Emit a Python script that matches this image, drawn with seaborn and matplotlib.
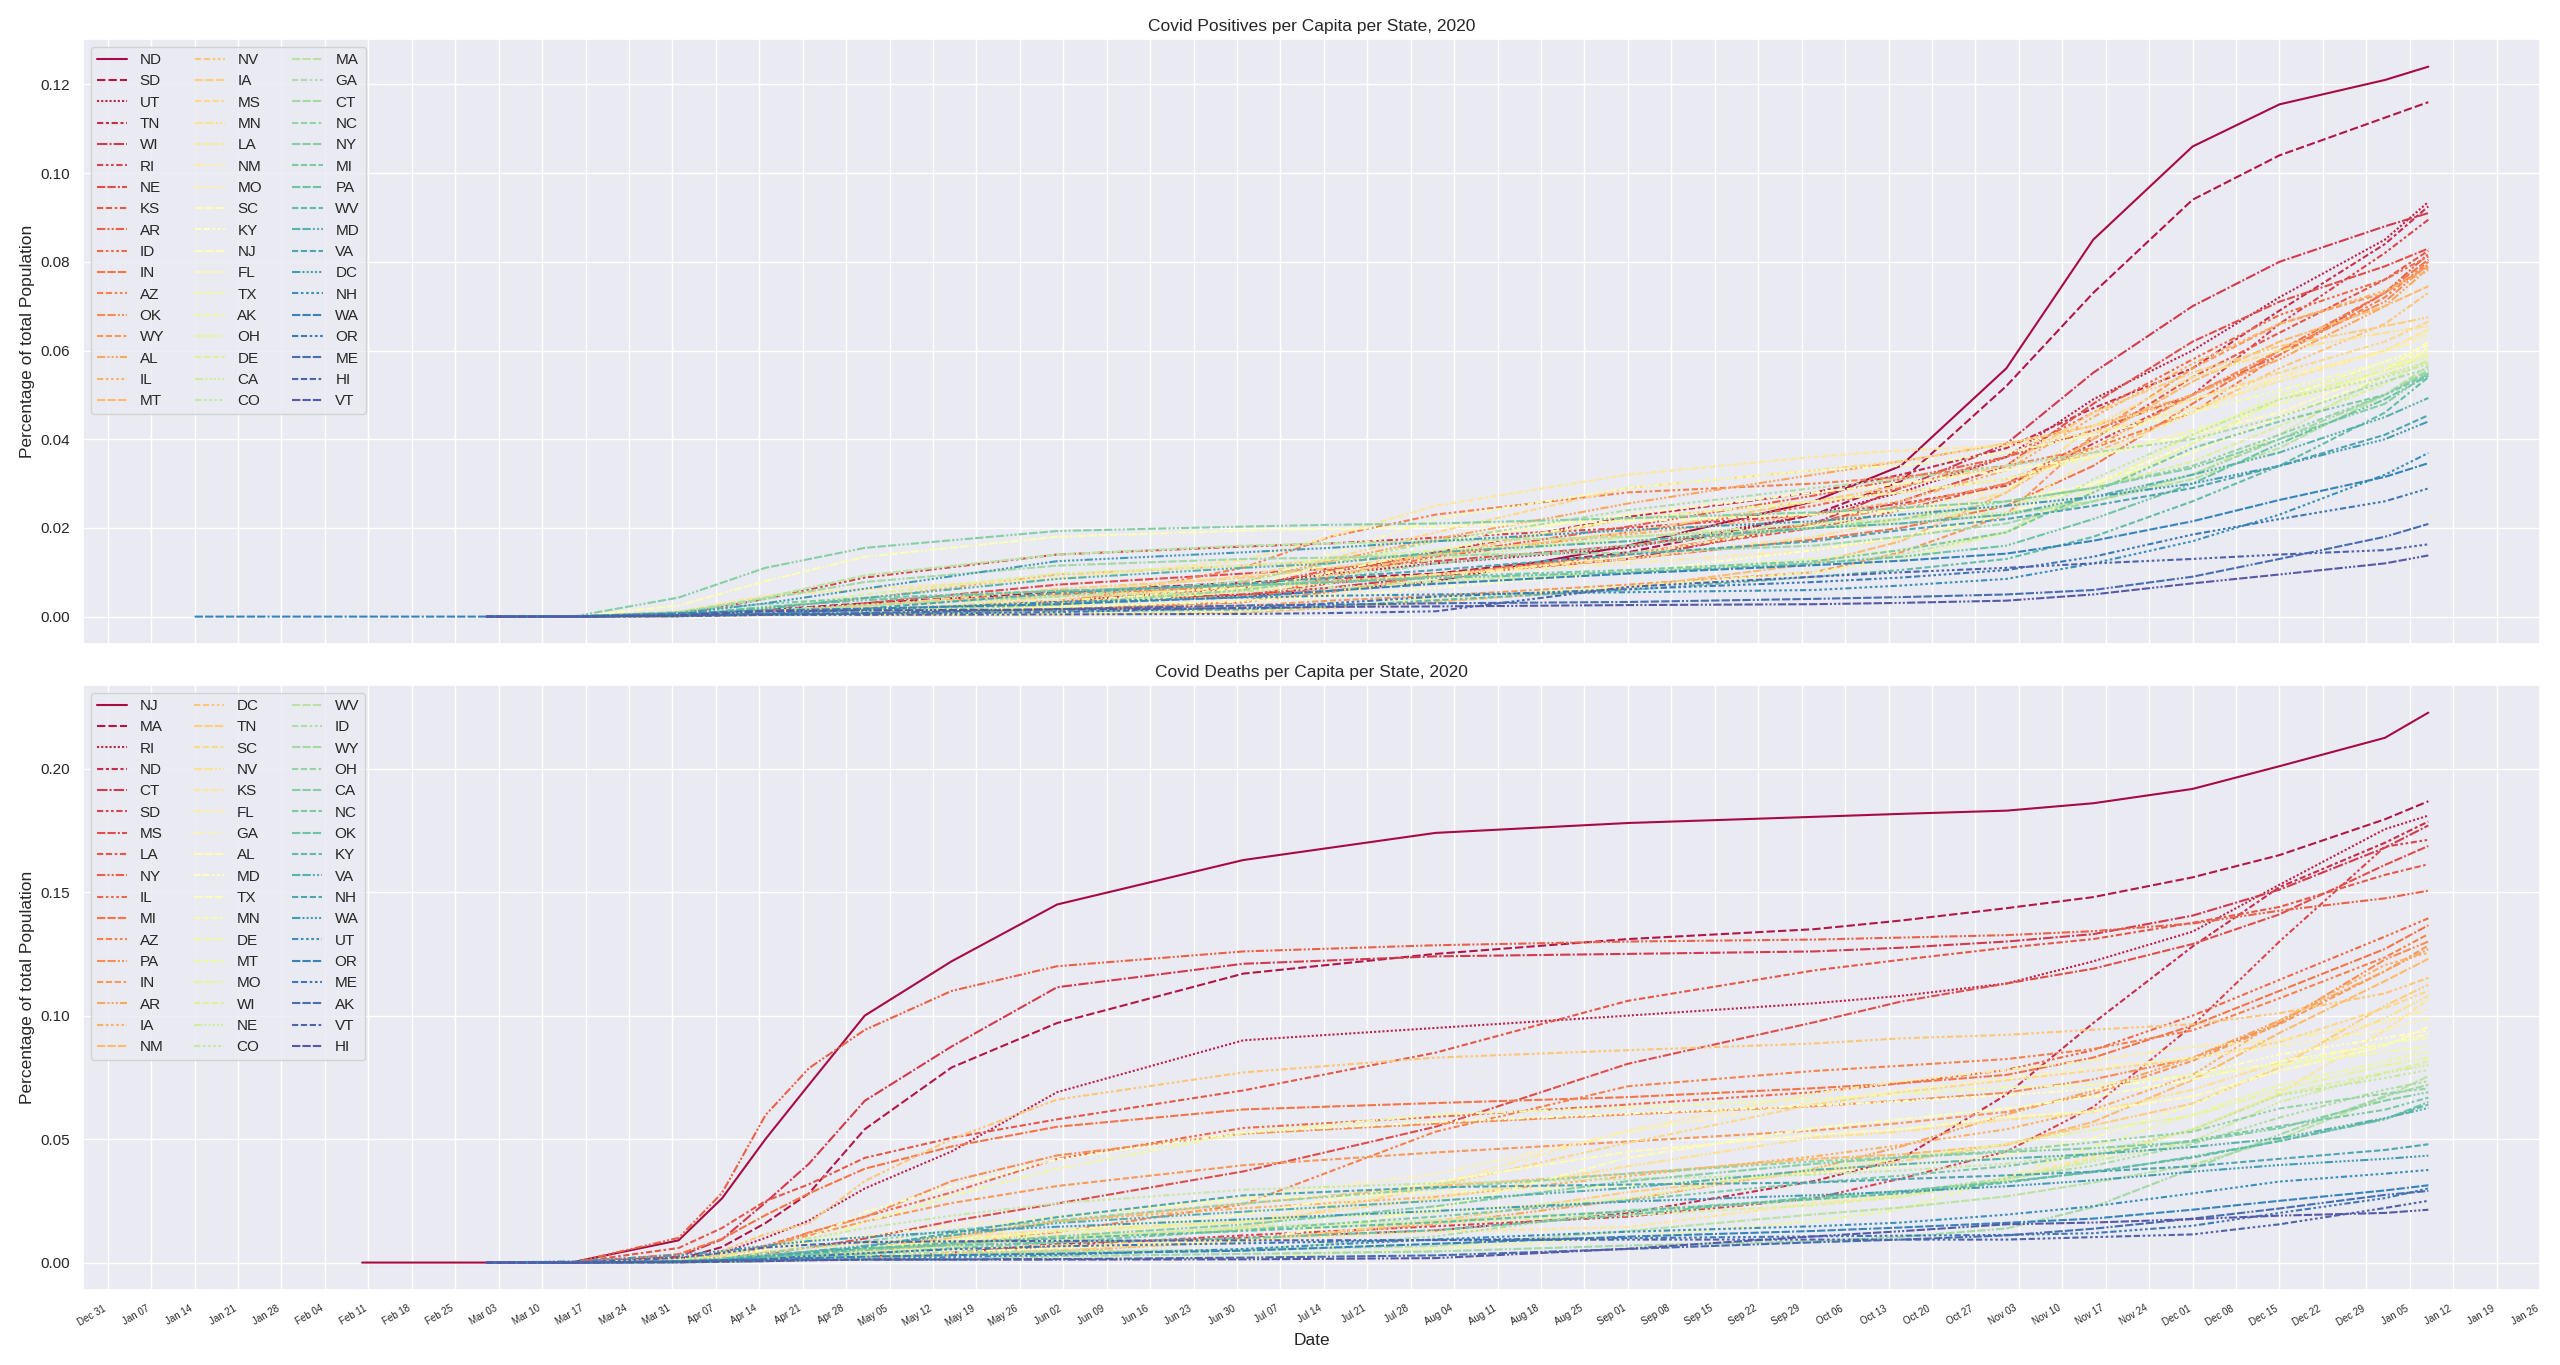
import matplotlib
matplotlib.use("Agg")
import matplotlib.pyplot as plt
import matplotlib.dates as mdates
import pandas as pd
import seaborn as sns

# ---------------- data: cumulative positives as share of population ----------------
case_dates = ["2020-01-14", "2020-03-01", "2020-03-15", "2020-04-01", "2020-04-15", "2020-05-01",
              "2020-06-01", "2020-07-01", "2020-07-15", "2020-08-01", "2020-09-01", "2020-10-01",
              "2020-10-15", "2020-11-01", "2020-11-15", "2020-12-01", "2020-12-15", "2021-01-01",
              "2021-01-08"]

cases = {
    "ND": [None, 0, 0, 0.0002, 0.0005, 0.0014, 0.0033, 0.0047, 0.0058, 0.0080, 0.0160, 0.0260, 0.0340, 0.0560, 0.0850, 0.1060, 0.1155, 0.1210, 0.1240],
    "SD": [None, 0, 0, 0.0001, 0.0015, 0.0030, 0.0055, 0.0077, 0.0086, 0.0097, 0.0145, 0.0230, 0.0305, 0.0520, 0.0730, 0.0940, 0.1040, 0.1125, 0.1160],
    "UT": [None, 0, 0, 0.0003, 0.0008, 0.0014, 0.0029, 0.0072, 0.0096, 0.0120, 0.0155, 0.0230, 0.0280, 0.0360, 0.0490, 0.0600, 0.0720, 0.0850, 0.0935],
    "TN": [None, 0, 0, 0.0004, 0.0008, 0.0016, 0.0034, 0.0065, 0.0100, 0.0145, 0.0225, 0.0280, 0.0320, 0.0380, 0.0470, 0.0560, 0.0690, 0.0840, 0.0925],
    "WI": [None, 0, 0, 0.0002, 0.0006, 0.0011, 0.0033, 0.0050, 0.0065, 0.0092, 0.0130, 0.0210, 0.0290, 0.0390, 0.0550, 0.0700, 0.0800, 0.0880, 0.0910],
    "RI": [None, 0, 0, 0.0005, 0.0040, 0.0088, 0.0140, 0.0158, 0.0165, 0.0178, 0.0200, 0.0230, 0.0255, 0.0295, 0.0390, 0.0500, 0.0660, 0.0820, 0.0895],
    "NE": [None, 0, 0, 0.0001, 0.0005, 0.0030, 0.0072, 0.0097, 0.0108, 0.0125, 0.0160, 0.0210, 0.0260, 0.0340, 0.0480, 0.0620, 0.0710, 0.0790, 0.0830],
    "KS": [None, 0, 0, 0.0002, 0.0005, 0.0016, 0.0033, 0.0048, 0.0075, 0.0095, 0.0140, 0.0200, 0.0240, 0.0300, 0.0400, 0.0540, 0.0640, 0.0760, 0.0825],
    "AR": [None, 0, 0, 0.0002, 0.0005, 0.0011, 0.0024, 0.0068, 0.0105, 0.0138, 0.0203, 0.0273, 0.0310, 0.0360, 0.0420, 0.0500, 0.0590, 0.0730, 0.0818],
    "ID": [None, 0, 0, 0.0003, 0.0008, 0.0012, 0.0016, 0.0032, 0.0090, 0.0135, 0.0190, 0.0250, 0.0290, 0.0360, 0.0460, 0.0580, 0.0680, 0.0760, 0.0812],
    "IN": [None, 0, 0, 0.0002, 0.0012, 0.0026, 0.0050, 0.0068, 0.0080, 0.0095, 0.0130, 0.0174, 0.0200, 0.0250, 0.0340, 0.0480, 0.0600, 0.0730, 0.0805],
    "AZ": [None, 0, 0, 0.0002, 0.0005, 0.0010, 0.0028, 0.0110, 0.0180, 0.0230, 0.0280, 0.0300, 0.0315, 0.0340, 0.0380, 0.0460, 0.0590, 0.0720, 0.0800],
    "OK": [None, 0, 0, 0.0001, 0.0005, 0.0009, 0.0017, 0.0033, 0.0055, 0.0093, 0.0140, 0.0210, 0.0250, 0.0300, 0.0380, 0.0500, 0.0600, 0.0710, 0.0795],
    "WY": [None, 0, 0, 0.0002, 0.0005, 0.0009, 0.0015, 0.0024, 0.0036, 0.0047, 0.0072, 0.0100, 0.0145, 0.0230, 0.0410, 0.0560, 0.0660, 0.0730, 0.0790],
    "AL": [None, 0, 0, 0.0002, 0.0009, 0.0015, 0.0036, 0.0078, 0.0125, 0.0175, 0.0255, 0.0320, 0.0350, 0.0390, 0.0430, 0.0500, 0.0580, 0.0700, 0.0785],
    "IL": [None, 0, 0, 0.0005, 0.0019, 0.0041, 0.0095, 0.0115, 0.0125, 0.0140, 0.0185, 0.0230, 0.0260, 0.0330, 0.0450, 0.0570, 0.0660, 0.0735, 0.0780],
    "MT": [None, 0, 0, 0.0002, 0.0004, 0.0004, 0.0005, 0.0009, 0.0020, 0.0033, 0.0065, 0.0120, 0.0170, 0.0280, 0.0400, 0.0530, 0.0620, 0.0700, 0.0745],
    "NV": [None, 0, 0, 0.0004, 0.0010, 0.0017, 0.0027, 0.0058, 0.0093, 0.0140, 0.0220, 0.0260, 0.0280, 0.0310, 0.0370, 0.0460, 0.0560, 0.0660, 0.0730],
    "IA": [None, 0, 0, 0.0002, 0.0006, 0.0024, 0.0062, 0.0087, 0.0110, 0.0140, 0.0190, 0.0260, 0.0295, 0.0340, 0.0460, 0.0550, 0.0610, 0.0655, 0.0675],
    "MS": [None, 0, 0, 0.0003, 0.0013, 0.0023, 0.0052, 0.0091, 0.0130, 0.0190, 0.0290, 0.0330, 0.0350, 0.0390, 0.0430, 0.0490, 0.0550, 0.0620, 0.0665],
    "MN": [None, 0, 0, 0.0001, 0.0003, 0.0009, 0.0045, 0.0065, 0.0079, 0.0095, 0.0130, 0.0180, 0.0220, 0.0280, 0.0430, 0.0540, 0.0600, 0.0640, 0.0655],
    "LA": [None, 0, 0, 0.0012, 0.0047, 0.0062, 0.0086, 0.0127, 0.0180, 0.0250, 0.0320, 0.0360, 0.0375, 0.0385, 0.0415, 0.0470, 0.0530, 0.0600, 0.0648],
    "NM": [None, 0, 0, 0.0002, 0.0008, 0.0017, 0.0036, 0.0058, 0.0075, 0.0095, 0.0120, 0.0150, 0.0175, 0.0230, 0.0360, 0.0460, 0.0540, 0.0600, 0.0640],
    "MO": [None, 0, 0, 0.0003, 0.0007, 0.0013, 0.0022, 0.0036, 0.0050, 0.0085, 0.0140, 0.0205, 0.0240, 0.0290, 0.0380, 0.0490, 0.0540, 0.0595, 0.0630],
    "SC": [None, 0, 0, 0.0002, 0.0007, 0.0012, 0.0022, 0.0065, 0.0120, 0.0170, 0.0230, 0.0280, 0.0300, 0.0330, 0.0360, 0.0410, 0.0460, 0.0555, 0.0620],
    "KY": [None, 0, 0, 0.0001, 0.0004, 0.0010, 0.0021, 0.0034, 0.0045, 0.0065, 0.0100, 0.0150, 0.0180, 0.0230, 0.0300, 0.0390, 0.0490, 0.0575, 0.0612],
    "NJ": [None, 0, 0, 0.0025, 0.0080, 0.0135, 0.0180, 0.0194, 0.0197, 0.0203, 0.0215, 0.0230, 0.0240, 0.0260, 0.0300, 0.0370, 0.0450, 0.0540, 0.0605],
    "FL": [None, 0, 0, 0.0003, 0.0010, 0.0016, 0.0027, 0.0072, 0.0140, 0.0220, 0.0290, 0.0330, 0.0340, 0.0370, 0.0410, 0.0460, 0.0510, 0.0575, 0.0600],
    "TX": [None, 0, 0, 0.0001, 0.0005, 0.0010, 0.0022, 0.0058, 0.0100, 0.0150, 0.0220, 0.0260, 0.0280, 0.0310, 0.0360, 0.0420, 0.0480, 0.0555, 0.0595],
    "AK": [None, 0, 0, 0.0002, 0.0004, 0.0005, 0.0006, 0.0012, 0.0022, 0.0042, 0.0068, 0.0100, 0.0130, 0.0190, 0.0290, 0.0410, 0.0500, 0.0565, 0.0590],
    "OH": [None, 0, 0, 0.0002, 0.0007, 0.0017, 0.0031, 0.0045, 0.0058, 0.0080, 0.0100, 0.0130, 0.0150, 0.0190, 0.0280, 0.0390, 0.0490, 0.0555, 0.0585],
    "DE": [None, 0, 0, 0.0004, 0.0019, 0.0050, 0.0097, 0.0115, 0.0128, 0.0150, 0.0170, 0.0200, 0.0220, 0.0250, 0.0290, 0.0350, 0.0430, 0.0525, 0.0580],
    "CA": [None, 0, 0, 0.0002, 0.0007, 0.0013, 0.0029, 0.0060, 0.0090, 0.0130, 0.0180, 0.0210, 0.0220, 0.0235, 0.0260, 0.0320, 0.0410, 0.0545, 0.0575],
    "CO": [None, 0, 0, 0.0005, 0.0014, 0.0027, 0.0046, 0.0056, 0.0065, 0.0080, 0.0100, 0.0120, 0.0140, 0.0190, 0.0310, 0.0410, 0.0490, 0.0540, 0.0570],
    "MA": [None, 0, 0, 0.0010, 0.0043, 0.0093, 0.0140, 0.0160, 0.0165, 0.0170, 0.0180, 0.0200, 0.0210, 0.0230, 0.0260, 0.0310, 0.0380, 0.0500, 0.0565],
    "GA": [None, 0, 0, 0.0005, 0.0013, 0.0025, 0.0045, 0.0080, 0.0120, 0.0170, 0.0240, 0.0290, 0.0310, 0.0340, 0.0370, 0.0400, 0.0450, 0.0530, 0.0560],
    "CT": [None, 0, 0, 0.0009, 0.0040, 0.0078, 0.0115, 0.0130, 0.0133, 0.0138, 0.0144, 0.0160, 0.0180, 0.0210, 0.0260, 0.0320, 0.0400, 0.0500, 0.0556],
    "NC": [None, 0, 0, 0.0002, 0.0005, 0.0010, 0.0027, 0.0060, 0.0085, 0.0120, 0.0160, 0.0200, 0.0220, 0.0260, 0.0290, 0.0340, 0.0410, 0.0500, 0.0552],
    "NY": [None, 0, 0, 0.0043, 0.0110, 0.0155, 0.0193, 0.0203, 0.0207, 0.0210, 0.0222, 0.0235, 0.0245, 0.0260, 0.0290, 0.0335, 0.0400, 0.0480, 0.0549],
    "MI": [None, 0, 0, 0.0010, 0.0029, 0.0042, 0.0058, 0.0070, 0.0078, 0.0090, 0.0105, 0.0125, 0.0150, 0.0190, 0.0280, 0.0380, 0.0440, 0.0500, 0.0546],
    "PA": [None, 0, 0, 0.0004, 0.0022, 0.0037, 0.0058, 0.0071, 0.0077, 0.0087, 0.0100, 0.0120, 0.0135, 0.0160, 0.0220, 0.0300, 0.0390, 0.0490, 0.0543],
    "WV": [None, 0, 0, 0.0001, 0.0004, 0.0007, 0.0012, 0.0016, 0.0023, 0.0037, 0.0060, 0.0090, 0.0105, 0.0130, 0.0180, 0.0260, 0.0340, 0.0460, 0.0540],
    "MD": [None, 0, 0, 0.0003, 0.0018, 0.0042, 0.0085, 0.0110, 0.0120, 0.0145, 0.0170, 0.0200, 0.0210, 0.0230, 0.0270, 0.0320, 0.0370, 0.0450, 0.0493],
    "VA": [None, 0, 0, 0.0002, 0.0007, 0.0018, 0.0053, 0.0074, 0.0088, 0.0105, 0.0140, 0.0170, 0.0195, 0.0220, 0.0250, 0.0290, 0.0340, 0.0410, 0.0454],
    "DC": [None, 0, 0, 0.0007, 0.0030, 0.0063, 0.0125, 0.0145, 0.0155, 0.0170, 0.0195, 0.0215, 0.0230, 0.0250, 0.0270, 0.0300, 0.0340, 0.0400, 0.0440],
    "NH": [None, 0, 0, 0.0003, 0.0007, 0.0015, 0.0033, 0.0043, 0.0047, 0.0050, 0.0055, 0.0060, 0.0070, 0.0085, 0.0120, 0.0170, 0.0230, 0.0320, 0.0369],
    "WA": [0, 0, 0.0001, 0.0007, 0.0014, 0.0018, 0.0028, 0.0044, 0.0058, 0.0074, 0.0097, 0.0116, 0.0126, 0.0142, 0.0171, 0.0215, 0.0263, 0.0315, 0.0346],
    "OR": [None, 0, 0, 0.0002, 0.0004, 0.0006, 0.0010, 0.0020, 0.0030, 0.0045, 0.0062, 0.0078, 0.0088, 0.0105, 0.0135, 0.0185, 0.0220, 0.0260, 0.0289],
    "ME": [None, 0, 0, 0.0002, 0.0006, 0.0008, 0.0017, 0.0025, 0.0027, 0.0030, 0.0033, 0.0040, 0.0044, 0.0050, 0.0060, 0.0090, 0.0130, 0.0180, 0.0209],
    "HI": [None, 0, 0, 0.0001, 0.0004, 0.0004, 0.0005, 0.0006, 0.0008, 0.0012, 0.0067, 0.0090, 0.0100, 0.0110, 0.0120, 0.0130, 0.0140, 0.0150, 0.0163],
    "VT": [None, 0, 0, 0.0003, 0.0012, 0.0014, 0.0016, 0.0019, 0.0022, 0.0023, 0.0026, 0.0028, 0.0031, 0.0036, 0.0050, 0.0075, 0.0095, 0.0120, 0.0138],
}

# ---------------- data: cumulative deaths per capita ----------------
death_dates = ["2020-02-10", "2020-03-01", "2020-03-15", "2020-04-01", "2020-04-08", "2020-04-15",
               "2020-04-22", "2020-05-01", "2020-05-15", "2020-06-01", "2020-07-01", "2020-08-01",
               "2020-09-01", "2020-10-01", "2020-10-15", "2020-11-01", "2020-11-15", "2020-12-01",
               "2020-12-15", "2021-01-01", "2021-01-08"]

deaths = {
    "NJ": [0, 0, 0.0002, 0.0090, 0.0260, 0.0500, 0.0720, 0.1000, 0.1220, 0.1450, 0.1630, 0.1740, 0.1780, 0.1805, 0.1817, 0.1830, 0.1860, 0.1918, 0.2010, 0.2125, 0.2227],
    "MA": [None, 0, 0, 0.0013, 0.0063, 0.0160, 0.0280, 0.0540, 0.0790, 0.0970, 0.1170, 0.1250, 0.1310, 0.1350, 0.1385, 0.1435, 0.1480, 0.1560, 0.1650, 0.1795, 0.1868],
    "RI": [None, 0, 0, 0.0011, 0.0038, 0.0100, 0.0170, 0.0300, 0.0450, 0.0690, 0.0900, 0.0950, 0.1000, 0.1050, 0.1080, 0.1130, 0.1220, 0.1340, 0.1530, 0.1755, 0.1810],
    "ND": [None, 0, 0, 0.0004, 0.0008, 0.0012, 0.0016, 0.0024, 0.0040, 0.0075, 0.0100, 0.0130, 0.0200, 0.0330, 0.0420, 0.0680, 0.0970, 0.1280, 0.1520, 0.1700, 0.1786],
    "CT": [None, 0, 0, 0.0024, 0.0094, 0.0243, 0.0400, 0.0655, 0.0875, 0.1115, 0.1210, 0.1240, 0.1250, 0.1260, 0.1275, 0.1300, 0.1330, 0.1405, 0.1510, 0.1680, 0.1770],
    "SD": [None, 0, 0, 0.0001, 0.0003, 0.0007, 0.0010, 0.0015, 0.0040, 0.0068, 0.0110, 0.0147, 0.0186, 0.0260, 0.0340, 0.0450, 0.0630, 0.0960, 0.1300, 0.1684, 0.1712],
    "MS": [None, 0, 0, 0.0007, 0.0020, 0.0037, 0.0060, 0.0097, 0.0168, 0.0239, 0.0369, 0.0550, 0.0805, 0.0973, 0.1057, 0.1130, 0.1190, 0.1290, 0.1410, 0.1610, 0.1687],
    "LA": [None, 0, 0, 0.0059, 0.0140, 0.0249, 0.0317, 0.0424, 0.0505, 0.0580, 0.0697, 0.0850, 0.1060, 0.1183, 0.1226, 0.1275, 0.1310, 0.1376, 0.1440, 0.1570, 0.1613],
    "NY": [None, 0, 0, 0.0100, 0.0282, 0.0597, 0.0787, 0.0942, 0.1100, 0.1200, 0.1260, 0.1285, 0.1300, 0.1308, 0.1316, 0.1326, 0.1342, 0.1373, 0.1425, 0.1475, 0.1506],
    "IL": [None, 0, 0, 0.0008, 0.0030, 0.0068, 0.0120, 0.0186, 0.0284, 0.0420, 0.0545, 0.0590, 0.0640, 0.0690, 0.0726, 0.0780, 0.0860, 0.1000, 0.1145, 0.1320, 0.1394],
    "MI": [None, 0, 0, 0.0034, 0.0096, 0.0192, 0.0280, 0.0380, 0.0470, 0.0550, 0.0620, 0.0646, 0.0670, 0.0706, 0.0726, 0.0760, 0.0830, 0.0960, 0.1100, 0.1270, 0.1366],
    "AZ": [None, 0, 0, 0.0003, 0.0008, 0.0017, 0.0030, 0.0048, 0.0073, 0.0124, 0.0236, 0.0530, 0.0714, 0.0776, 0.0797, 0.0824, 0.0865, 0.0940, 0.1070, 0.1236, 0.1330],
    "PA": [None, 0, 0, 0.0006, 0.0026, 0.0059, 0.0122, 0.0184, 0.0330, 0.0434, 0.0522, 0.0562, 0.0600, 0.0633, 0.0656, 0.0688, 0.0742, 0.0828, 0.0969, 0.1227, 0.1300],
    "IN": [None, 0, 0, 0.0012, 0.0033, 0.0065, 0.0110, 0.0166, 0.0241, 0.0310, 0.0394, 0.0446, 0.0490, 0.0535, 0.0565, 0.0610, 0.0683, 0.0817, 0.0965, 0.1180, 0.1284],
    "AR": [None, 0, 0, 0.0002, 0.0004, 0.0010, 0.0015, 0.0020, 0.0030, 0.0044, 0.0091, 0.0156, 0.0255, 0.0380, 0.0470, 0.0600, 0.0696, 0.0830, 0.0980, 0.1180, 0.1270],
    "IA": [None, 0, 0, 0.0002, 0.0009, 0.0022, 0.0036, 0.0054, 0.0110, 0.0168, 0.0220, 0.0266, 0.0350, 0.0430, 0.0476, 0.0540, 0.0620, 0.0760, 0.0980, 0.1205, 0.1255],
    "NM": [None, 0, 0, 0.0001, 0.0012, 0.0019, 0.0030, 0.0052, 0.0100, 0.0167, 0.0238, 0.0310, 0.0360, 0.0420, 0.0438, 0.0476, 0.0570, 0.0740, 0.0930, 0.1140, 0.1230],
    "DC": [None, 0, 0, 0.0013, 0.0047, 0.0115, 0.0159, 0.0330, 0.0500, 0.0660, 0.0770, 0.0830, 0.0860, 0.0887, 0.0908, 0.0922, 0.0943, 0.0965, 0.1010, 0.1090, 0.1153],
    "TN": [None, 0, 0, 0.0003, 0.0007, 0.0014, 0.0020, 0.0028, 0.0038, 0.0051, 0.0085, 0.0168, 0.0285, 0.0366, 0.0410, 0.0480, 0.0556, 0.0644, 0.0790, 0.1040, 0.1125],
    "SC": [None, 0, 0, 0.0004, 0.0013, 0.0021, 0.0031, 0.0047, 0.0071, 0.0099, 0.0140, 0.0310, 0.0485, 0.0640, 0.0690, 0.0738, 0.0777, 0.0825, 0.0893, 0.1030, 0.1100],
    "NV": [None, 0, 0, 0.0008, 0.0028, 0.0044, 0.0058, 0.0079, 0.0105, 0.0130, 0.0164, 0.0260, 0.0390, 0.0506, 0.0530, 0.0578, 0.0610, 0.0700, 0.0810, 0.0990, 0.1080],
    "KS": [None, 0, 0, 0.0003, 0.0014, 0.0027, 0.0035, 0.0043, 0.0055, 0.0069, 0.0093, 0.0125, 0.0144, 0.0240, 0.0270, 0.0340, 0.0430, 0.0536, 0.0687, 0.0940, 0.1065],
    "FL": [None, 0, 0, 0.0004, 0.0012, 0.0027, 0.0041, 0.0059, 0.0088, 0.0114, 0.0165, 0.0316, 0.0535, 0.0684, 0.0735, 0.0780, 0.0819, 0.0874, 0.0900, 0.0975, 0.1025],
    "GA": [None, 0, 0, 0.0013, 0.0035, 0.0058, 0.0085, 0.0108, 0.0150, 0.0183, 0.0264, 0.0358, 0.0528, 0.0650, 0.0698, 0.0745, 0.0790, 0.0830, 0.0877, 0.0943, 0.0990],
    "AL": [None, 0, 0, 0.0003, 0.0012, 0.0023, 0.0035, 0.0055, 0.0090, 0.0128, 0.0194, 0.0326, 0.0449, 0.0518, 0.0540, 0.0590, 0.0612, 0.0673, 0.0775, 0.0877, 0.0955],
    "MD": [None, 0, 0, 0.0005, 0.0017, 0.0054, 0.0097, 0.0205, 0.0308, 0.0418, 0.0527, 0.0570, 0.0603, 0.0636, 0.0653, 0.0678, 0.0702, 0.0760, 0.0843, 0.0910, 0.0940],
    "TX": [None, 0, 0, 0.0001, 0.0006, 0.0013, 0.0020, 0.0029, 0.0042, 0.0059, 0.0086, 0.0217, 0.0424, 0.0545, 0.0580, 0.0624, 0.0672, 0.0741, 0.0814, 0.0885, 0.0925],
    "MN": [None, 0, 0, 0.0003, 0.0007, 0.0014, 0.0032, 0.0061, 0.0120, 0.0186, 0.0257, 0.0284, 0.0310, 0.0363, 0.0390, 0.0434, 0.0505, 0.0638, 0.0798, 0.0887, 0.0910],
    "DE": [None, 0, 0, 0.0010, 0.0020, 0.0036, 0.0080, 0.0163, 0.0270, 0.0380, 0.0524, 0.0600, 0.0627, 0.0662, 0.0683, 0.0709, 0.0720, 0.0760, 0.0800, 0.0852, 0.0875],
    "MT": [None, 0, 0, 0.0006, 0.0008, 0.0011, 0.0013, 0.0015, 0.0015, 0.0016, 0.0020, 0.0056, 0.0103, 0.0168, 0.0215, 0.0346, 0.0468, 0.0600, 0.0720, 0.0814, 0.0855],
    "MO": [None, 0, 0, 0.0004, 0.0011, 0.0025, 0.0038, 0.0054, 0.0090, 0.0127, 0.0168, 0.0205, 0.0260, 0.0380, 0.0423, 0.0480, 0.0537, 0.0594, 0.0700, 0.0798, 0.0830],
    "WI": [None, 0, 0, 0.0004, 0.0013, 0.0026, 0.0039, 0.0053, 0.0078, 0.0103, 0.0136, 0.0160, 0.0192, 0.0232, 0.0266, 0.0335, 0.0420, 0.0540, 0.0680, 0.0770, 0.0815],
    "NE": [None, 0, 0, 0.0002, 0.0007, 0.0012, 0.0020, 0.0038, 0.0065, 0.0090, 0.0145, 0.0171, 0.0207, 0.0254, 0.0280, 0.0337, 0.0410, 0.0490, 0.0650, 0.0767, 0.0800],
    "CO": [None, 0, 0, 0.0012, 0.0033, 0.0062, 0.0098, 0.0139, 0.0190, 0.0240, 0.0295, 0.0321, 0.0339, 0.0356, 0.0373, 0.0400, 0.0443, 0.0538, 0.0677, 0.0747, 0.0780],
    "WV": [None, 0, 0, 0.0001, 0.0005, 0.0010, 0.0015, 0.0022, 0.0030, 0.0042, 0.0052, 0.0067, 0.0128, 0.0195, 0.0223, 0.0268, 0.0324, 0.0396, 0.0500, 0.0670, 0.0755],
    "ID": [None, 0, 0, 0.0005, 0.0015, 0.0022, 0.0030, 0.0034, 0.0042, 0.0046, 0.0050, 0.0106, 0.0213, 0.0257, 0.0285, 0.0341, 0.0392, 0.0480, 0.0587, 0.0700, 0.0735],
    "WY": [None, 0, 0, 0.0000, 0.0002, 0.0005, 0.0010, 0.0012, 0.0012, 0.0026, 0.0035, 0.0045, 0.0069, 0.0086, 0.0104, 0.0138, 0.0225, 0.0380, 0.0518, 0.0674, 0.0720],
    "OH": [None, 0, 0, 0.0006, 0.0016, 0.0040, 0.0062, 0.0086, 0.0130, 0.0171, 0.0240, 0.0300, 0.0360, 0.0410, 0.0428, 0.0453, 0.0487, 0.0530, 0.0624, 0.0684, 0.0705],
    "CA": [None, 0, 0, 0.0005, 0.0011, 0.0019, 0.0032, 0.0050, 0.0075, 0.0106, 0.0154, 0.0228, 0.0330, 0.0400, 0.0425, 0.0448, 0.0463, 0.0489, 0.0544, 0.0656, 0.0690],
    "NC": [None, 0, 0, 0.0001, 0.0005, 0.0011, 0.0021, 0.0035, 0.0058, 0.0082, 0.0132, 0.0186, 0.0252, 0.0324, 0.0352, 0.0390, 0.0438, 0.0495, 0.0552, 0.0619, 0.0668],
    "OK": [None, 0, 0, 0.0006, 0.0017, 0.0031, 0.0045, 0.0058, 0.0070, 0.0082, 0.0098, 0.0131, 0.0194, 0.0265, 0.0290, 0.0328, 0.0366, 0.0429, 0.0492, 0.0580, 0.0650],
    "KY": [None, 0, 0, 0.0004, 0.0010, 0.0021, 0.0035, 0.0056, 0.0080, 0.0098, 0.0128, 0.0163, 0.0208, 0.0257, 0.0280, 0.0324, 0.0369, 0.0425, 0.0492, 0.0582, 0.0640],
    "VA": [None, 0, 0, 0.0004, 0.0009, 0.0023, 0.0045, 0.0068, 0.0110, 0.0160, 0.0206, 0.0250, 0.0302, 0.0375, 0.0398, 0.0421, 0.0439, 0.0468, 0.0503, 0.0585, 0.0626],
    "NH": [None, 0, 0, 0.0002, 0.0010, 0.0028, 0.0040, 0.0063, 0.0120, 0.0184, 0.0272, 0.0305, 0.0316, 0.0324, 0.0338, 0.0353, 0.0368, 0.0390, 0.0420, 0.0456, 0.0479],
    "WA": [None, 0, 0.0005, 0.0030, 0.0047, 0.0068, 0.0087, 0.0103, 0.0125, 0.0145, 0.0175, 0.0209, 0.0247, 0.0273, 0.0287, 0.0309, 0.0333, 0.0368, 0.0395, 0.0420, 0.0433],
    "UT": [None, 0, 0, 0.0002, 0.0004, 0.0006, 0.0010, 0.0014, 0.0022, 0.0031, 0.0055, 0.0094, 0.0125, 0.0147, 0.0162, 0.0194, 0.0228, 0.0280, 0.0328, 0.0360, 0.0375],
    "OR": [None, 0, 0, 0.0004, 0.0007, 0.0013, 0.0018, 0.0024, 0.0030, 0.0036, 0.0048, 0.0076, 0.0105, 0.0128, 0.0142, 0.0161, 0.0178, 0.0214, 0.0250, 0.0292, 0.0313],
    "ME": [None, 0, 0, 0.0005, 0.0009, 0.0014, 0.0026, 0.0038, 0.0054, 0.0066, 0.0078, 0.0092, 0.0099, 0.0106, 0.0109, 0.0112, 0.0119, 0.0149, 0.0201, 0.0261, 0.0300],
    "AK": [None, 0, 0, 0.0004, 0.0010, 0.0012, 0.0012, 0.0012, 0.0013, 0.0014, 0.0020, 0.0029, 0.0055, 0.0082, 0.0093, 0.0110, 0.0137, 0.0178, 0.0219, 0.0274, 0.0290],
    "VT": [None, 0, 0, 0.0019, 0.0039, 0.0061, 0.0072, 0.0083, 0.0086, 0.0088, 0.0090, 0.0091, 0.0093, 0.0093, 0.0093, 0.0093, 0.0103, 0.0114, 0.0155, 0.0221, 0.0250],
    "HI": [None, 0, 0, 0.0001, 0.0004, 0.0006, 0.0009, 0.0012, 0.0012, 0.0012, 0.0013, 0.0018, 0.0056, 0.0106, 0.0127, 0.0155, 0.0162, 0.0176, 0.0190, 0.0201, 0.0214],
}

titles = ["Covid Positives per Capita per State, 2020", "Covid Deaths per Capita per State, 2020"]
y_label = "Percentage of total Population"
x_label = "Date"


def to_long(dates, table):
    rows = []
    for state, vals in table.items():
        assert len(vals) == len(dates), state
        for d, v in zip(dates, vals):
            if v is not None:
                rows.append((pd.Timestamp(d), state, v))
    return pd.DataFrame(rows, columns=["Date", "State", "Value"])


sns.set_theme(style="darkgrid")
plt.rcParams["font.family"] = ["Liberation Sans", "DejaVu Sans"]

fig, axes = plt.subplots(2, 1, figsize=(25.6, 13.65), dpi=100, sharex=True)
fig.subplots_adjust(left=0.0324, right=0.9922, top=0.9713, bottom=0.0549, hspace=0.0678)

for ax, dates, table, title in zip(axes, [case_dates, death_dates], [cases, deaths], titles):
    df = to_long(dates, table)
    order = list(table.keys())
    sns.lineplot(data=df, x="Date", y="Value", hue="State", style="State",
                 hue_order=order, style_order=order, palette="Spectral",
                 linewidth=1.5, ax=ax)
    sns.move_legend(ax, "upper left", ncol=3, title=None, fontsize=11, labelspacing=0.48)
    ax.set_title(title, fontsize=12.5)
    ax.set_ylabel(y_label, fontsize=12.5)
    ax.tick_params(axis="y", labelsize=11)

axes[0].set_xlabel("")
axes[1].set_xlabel(x_label, fontsize=12.5)
axes[1].xaxis.set_major_locator(mdates.WeekdayLocator(byweekday=mdates.TU))
axes[1].xaxis.set_major_formatter(mdates.DateFormatter("%b %d"))
plt.setp(axes[1].get_xticklabels(), rotation=30, ha="right", fontsize=7)

fig.savefig("out.png", dpi=100)
